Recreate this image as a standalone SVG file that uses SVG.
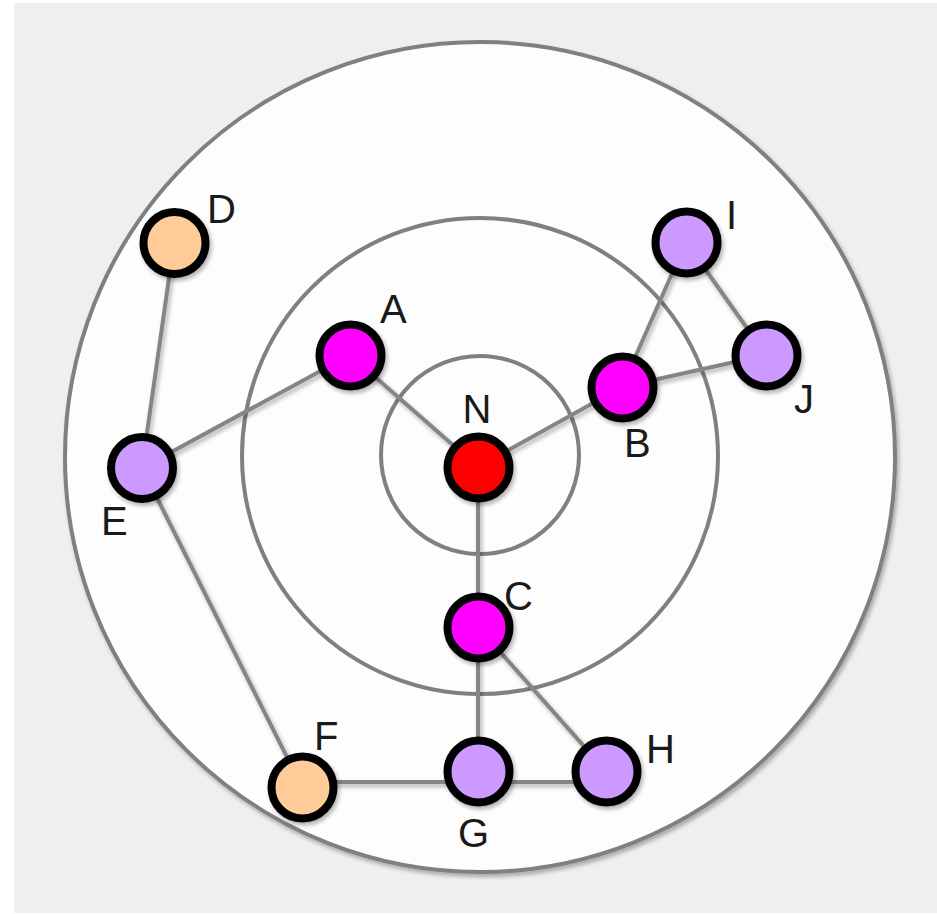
<svg xmlns="http://www.w3.org/2000/svg" width="937" height="914" viewBox="0 0 937 914">
<defs>
<filter id="sh" x="-20%" y="-20%" width="140%" height="140%">
<feGaussianBlur in="SourceAlpha" stdDeviation="2"/>
<feOffset dx="2" dy="3" result="b"/>
<feComponentTransfer><feFuncA type="linear" slope="0.3"/></feComponentTransfer>
<feMerge><feMergeNode/><feMergeNode in="SourceGraphic"/></feMerge>
</filter>
<style>
.ring{fill:none;stroke:#808080;stroke-width:4}
.edge{stroke:#858585;stroke-width:4;fill:none}
.node{stroke:#000;stroke-width:8}
.lbl{font-family:"Liberation Sans",Arial,sans-serif;font-size:40px;fill:#1a1a1a}
</style>
</defs>
<rect x="0" y="0" width="937" height="914" fill="#fff"/>
<rect x="14" y="3" width="923" height="910" fill="#efefef"/>
<g id="rings">
<circle cx="480" cy="457" r="415" fill="#fdfdfd" stroke="#808080" stroke-width="4" filter="url(#sh)"/>
<circle class="ring" cx="480" cy="456" r="238"/>
<circle class="ring" cx="480" cy="455" r="99"/>
</g>
<g id="connectors" filter="url(#sh)">
<line class="edge" x1="174" y1="243" x2="142" y2="468"/>
<line class="edge" x1="142" y1="468" x2="350" y2="355"/>
<line class="edge" x1="350" y1="355" x2="478" y2="467"/>
<line class="edge" x1="478" y1="467" x2="622" y2="387"/>
<line class="edge" x1="622" y1="387" x2="686" y2="242"/>
<line class="edge" x1="622" y1="387" x2="766" y2="355"/>
<line class="edge" x1="686" y1="242" x2="766" y2="355"/>
<line class="edge" x1="478" y1="467" x2="478" y2="627"/>
<line class="edge" x1="478" y1="627" x2="478" y2="771"/>
<line class="edge" x1="478" y1="627" x2="606" y2="771"/>
<line class="edge" x1="142" y1="468" x2="302" y2="787"/>
<line class="edge" x1="302" y1="782" x2="478" y2="782"/>
<line class="edge" x1="478" y1="782" x2="606" y2="782"/>
</g>
<g id="node-N"><circle class="node" cx="478.5" cy="467.5" r="31" fill="#ff0000" filter="url(#sh)"/><text class="lbl" x="477" y="423" text-anchor="middle">N</text></g>
<g id="node-A"><circle class="node" cx="350.5" cy="355.5" r="31" fill="#ff00ff" filter="url(#sh)"/><text class="lbl" x="380" y="323">A</text></g>
<g id="node-B"><circle class="node" cx="622.5" cy="387.5" r="31" fill="#ff00ff" filter="url(#sh)"/><text class="lbl" x="624" y="457">B</text></g>
<g id="node-C"><circle class="node" cx="478.5" cy="627.5" r="31" fill="#ff00ff" filter="url(#sh)"/><text class="lbl" x="504" y="610">C</text></g>
<g id="node-D"><circle class="node" cx="174.5" cy="243" r="31" fill="#ffcc99" filter="url(#sh)"/><text class="lbl" x="207" y="223">D</text></g>
<g id="node-E"><circle class="node" cx="142" cy="468" r="31" fill="#cc99ff" filter="url(#sh)"/><text class="lbl" x="101" y="535">E</text></g>
<g id="node-F"><circle class="node" cx="302.5" cy="787.5" r="31" fill="#ffcc99" filter="url(#sh)"/><text class="lbl" x="314" y="750">F</text></g>
<g id="node-G"><circle class="node" cx="478.5" cy="771.5" r="31" fill="#cc99ff" filter="url(#sh)"/><text class="lbl" x="458" y="847">G</text></g>
<g id="node-H"><circle class="node" cx="606.5" cy="771.5" r="31" fill="#cc99ff" filter="url(#sh)"/><text class="lbl" x="646" y="763">H</text></g>
<g id="node-I"><circle class="node" cx="686.5" cy="242.5" r="31" fill="#cc99ff" filter="url(#sh)"/><text class="lbl" x="726" y="229">I</text></g>
<g id="node-J"><circle class="node" cx="766.5" cy="355.5" r="31" fill="#cc99ff" filter="url(#sh)"/><text class="lbl" x="794" y="413">J</text></g>
</svg>
